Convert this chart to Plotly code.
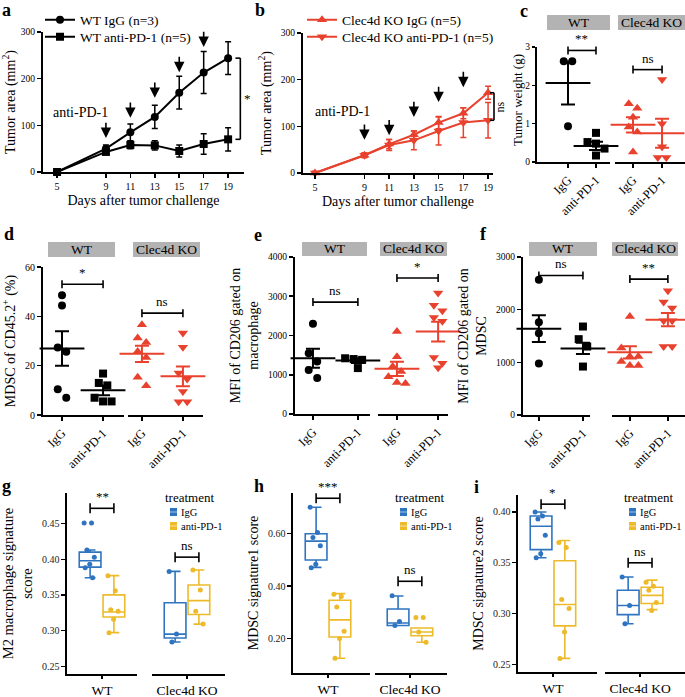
import plotly.graph_objects as go

# ---------------- data ----------------
days = [5, 9, 11, 13, 15, 17, 19]
wt_igg = [0, 50, 85, 118, 170, 213, 244]
wt_igg_sem = [0, 8, 18, 25, 35, 45, 35]
wt_pd1 = [0, 43, 58, 57, 45, 60, 70]
wt_pd1_sem = [0, 5, 8, 10, 13, 22, 25]
ko_igg = [0, 38, 62, 82, 108, 128, 172]
ko_igg_sem = [3, 5, 10, 8, 13, 12, 14]
ko_pd1 = [0, 38, 60, 70, 90, 108, 113]
ko_pd1_sem = [3, 5, 12, 20, 30, 32, 38]
dose_days = [9, 11, 13, 15, 17]

group_labels = ["IgG", "anti-PD-1"]
strain_labels = ["WT", "Clec4d KO"]

# c: tumor weight (g)
c_wt_igg = [2.63, 2.63, 0.93]
c_wt_pd1 = [0.76, 0.52, 0.48, 0.35, 0.17]
c_ko_igg = [1.52, 1.40, 1.17, 0.91, 0.78, 0.26]
c_ko_pd1 = [2.15, 1.00, 0.40, 0.12, 0.12]
c_means = [2.06, 0.42, 0.97, 0.75]
c_sems = [0.56, 0.11, 0.20, 0.38]

# d: MDSC of CD45.2+ (%)
d_wt_igg = [48.5, 44.4, 27.4, 25.6, 10.4, 7.0]
d_wt_pd1 = [16.8, 13.0, 12.0, 7.0, 5.5, 5.5]
d_ko_igg = [36.6, 31.2, 29.4, 25.7, 23.3, 15.3, 11.9]
d_ko_pd1 = [33.2, 27.5, 17.0, 14.6, 9.5, 5.4, 5.4]
d_means = [27.0, 10.0, 24.8, 15.7]
d_sems = [7.0, 2.0, 3.3, 4.0]

# e: MFI of CD206 gated on macrophage
e_wt_igg = [2300, 1550, 1340, 1120, 920]
e_wt_pd1 = [1420, 1400, 1380, 1340, 1170]
e_ko_igg = [2100, 1460, 1210, 1080, 950, 800, 780]
e_ko_pd1 = [3080, 2770, 2630, 2460, 2360, 1440, 1290, 1180]
e_means = [1420, 1360, 1150, 2100]
e_sems = [240, 60, 180, 250]

# f: MFI of CD206 gated on MDSC
f_wt_igg = [2570, 1760, 1550, 980]
f_wt_pd1 = [1680, 1440, 1300, 920]
f_ko_igg = [1870, 1270, 1110, 1110, 1015, 940, 940]
f_ko_pd1 = [2360, 2145, 2030, 1790, 1790, 1300, 1300]
f_means = [1640, 1265, 1190, 1810]
f_sems = [255, 105, 115, 127]

# g/h/i: box statistics [q1, median, q3, lower whisker, upper whisker] and points
g_stats = {"WT_IgG": [0.389, 0.398, 0.410, 0.374, 0.413],
           "WT_PD1": [0.319, 0.326, 0.350, 0.297, 0.377],
           "KO_IgG": [0.2895, 0.295, 0.339, 0.284, 0.383],
           "KO_PD1": [0.3225, 0.342, 0.364, 0.309, 0.385]}
g_pts = {"WT_IgG": [0.451, 0.451, 0.413, 0.403, 0.393, 0.388, 0.374],
         "WT_PD1": [0.377, 0.356, 0.329, 0.327, 0.316, 0.297],
         "KO_IgG": [0.383, 0.295, 0.284],
         "KO_PD1": [0.385, 0.357, 0.327, 0.309]}
h_stats = {"WT_IgG": [0.499, 0.571, 0.599, 0.471, 0.700],
           "WT_PD1": [0.206, 0.271, 0.346, 0.125, 0.371],
           "KO_IgG": [0.250, 0.259, 0.3125, 0.250, 0.362],
           "KO_PD1": [0.211, 0.225, 0.240, 0.186, 0.240]}
h_pts = {"WT_IgG": [0.700, 0.604, 0.585, 0.553, 0.483, 0.470],
         "WT_PD1": [0.369, 0.360, 0.320, 0.228, 0.200, 0.125],
         "KO_IgG": [0.363, 0.265, 0.250],
         "KO_PD1": [0.280, 0.280, 0.225, 0.186]}
i_stats = {"WT_IgG": [0.363, 0.386, 0.396, 0.355, 0.400],
           "WT_PD1": [0.288, 0.309, 0.352, 0.256, 0.372],
           "KO_IgG": [0.299, 0.308, 0.323, 0.290, 0.336],
           "KO_PD1": [0.310, 0.318, 0.326, 0.304, 0.333]}
i_pts = {"WT_IgG": [0.400, 0.396, 0.393, 0.377, 0.359, 0.355],
         "WT_PD1": [0.370, 0.365, 0.314, 0.305, 0.282, 0.256],
         "KO_IgG": [0.336, 0.308, 0.290],
         "KO_PD1": [0.331, 0.327, 0.323, 0.311, 0.303]}

# ---------------- styling / layout helpers ----------------
W, H = 685, 697
FONT = "Liberation Serif"
RED = "#E8412E"
BLUE = "#2F74C0"
GOLD = "#EDBA2A"
STRIP = "#B3B3B3"

def fx(p):
    return p / W

def fy(p):
    return 1 - p / H

AX = {}
LAY = {}
SHAPES = []
ANN = []

def xaxis(ref, p0, p1, r0, r1, anchor, tickvals, ticktext, tfs=10, angle=0, lw=2, title=None,
          tcolor="black", ticklen=4):
    AX[ref] = (p0, p1, r0, r1)
    key = "xaxis" + ref[1:]
    d = dict(domain=[fx(p0), fx(p1)], range=[r0, r1], anchor=anchor,
             tickmode="array", tickvals=tickvals, ticktext=ticktext, tickangle=angle,
             showline=True, linecolor="black", linewidth=lw, ticks="outside",
             ticklen=ticklen, tickwidth=lw * 0.8, tickcolor="black", showgrid=False,
             zeroline=False, tickfont=dict(family=FONT, size=tfs, color=tcolor),
             fixedrange=True)
    if title:
        d["title"] = dict(text=title, font=dict(family=FONT, size=14, color="black"), standoff=4)
    LAY[key] = d

def yaxis(ref, top, bot, r0, r1, anchor, tickvals, ticktext=None, tfs=10, lw=2, title=None, tsize=14,
          tcolor="black", standoff=6, ticklen=4):
    AX[ref] = (top, bot, r0, r1)
    key = "yaxis" + ref[1:]
    d = dict(domain=[fy(bot), fy(top)], range=[r0, r1], anchor=anchor,
             tickmode="array", tickvals=tickvals,
             ticktext=ticktext if ticktext is not None else [str(v) for v in tickvals],
             showline=True, linecolor="black", linewidth=lw, ticks="outside",
             ticklen=ticklen, tickwidth=lw * 0.8, tickcolor="black", showgrid=False,
             zeroline=False, tickfont=dict(family=FONT, size=tfs, color=tcolor),
             fixedrange=True)
    if title:
        d["title"] = dict(text=title, font=dict(family=FONT, size=tsize, color="black"), standoff=standoff)
    LAY[key] = d

def X(ref, v):
    p0, p1, r0, r1 = AX[ref]
    return fx(p0 + (v - r0) / (r1 - r0) * (p1 - p0))

def Y(ref, v):
    top, bot, r0, r1 = AX[ref]
    return fy(bot - (v - r0) / (r1 - r0) * (bot - top))

def xpx_per_unit(ref):
    p0, p1, r0, r1 = AX[ref]
    return (p1 - p0) / (r1 - r0)

def ypx_per_unit(ref):
    top, bot, r0, r1 = AX[ref]
    return (bot - top) / (r1 - r0)

def line(x0, y0, x1, y1, w=1.6, color="black"):
    SHAPES.append(dict(type="line", xref="paper", yref="paper", x0=x0, y0=y0, x1=x1, y1=y1,
                       line=dict(color=color, width=w)))

def text(x, y, s, size=13, xanchor="center", yanchor="middle", bold=False, angle=0, color="black"):
    ANN.append(dict(x=x, y=y, xref="paper", yref="paper", text=("<b>%s</b>" % s) if bold else s,
                    showarrow=False, xanchor=xanchor, yanchor=yanchor, textangle=angle,
                    font=dict(family=FONT, size=size, color=color)))

def bracket(xref, yref, x0, x1, yv, label, tick=4, size=13, lw=1.6):
    xa, xb, yy = X(xref, x0), X(xref, x1), Y(yref, yv)
    line(xa, yy, xb, yy, lw)
    line(xa, yy - tick / H, xa, yy + tick / H, lw)
    line(xb, yy - tick / H, xb, yy + tick / H, lw)
    text((xa + xb) / 2, yy + 2 / H, label, size=size, yanchor="bottom")

def strip(x0, x1, y0, y1, label):
    SHAPES.append(dict(type="rect", xref="paper", yref="paper", x0=fx(x0), x1=fx(x1),
                       y0=fy(y1), y1=fy(y0), fillcolor=STRIP, line=dict(width=0), layer="below"))
    text(fx((x0 + x1) / 2), fy((y0 + y1) / 2), label, size=13.5)

def swarm(vals, ux, uy, d=8.5):
    """Prism-like scatter: points that overlap vertically are spread side by side."""
    order = sorted(range(len(vals)), key=lambda i: -vals[i])
    offs = [0.0] * len(vals)
    clusters = []
    for i in order:
        if clusters and abs(vals[clusters[-1][0]] - vals[i]) * uy < d:
            clusters[-1].append(i)
        else:
            clusters.append([i])
    for cl in clusters:
        n = len(cl)
        for j, i in enumerate(cl):
            offs[i] = (j - (n - 1) / 2) * d / ux
    return offs

fig = go.Figure()

# ---------------- panel a ----------------
xaxis("x", 43, 244, 3.85, 20.3, "y", days, [str(d) for d in days], tfs=10,
      title="Days after tumor challenge")
yaxis("y", 32, 172, 0, 300, "x", [0, 100, 200, 300], tfs=9.5, title="Tumor area (mm<sup>2</sup>)")
for yv, err, sym, name, lg in [(wt_igg, wt_igg_sem, "circle", "WT IgG (n=3)", "legend"),
                               (wt_pd1, wt_pd1_sem, "square", "WT anti-PD-1 (n=5)", "legend2")]:
    fig.add_trace(go.Scatter(x=days, y=yv, mode="lines+markers", name=name,
                             error_y=dict(type="data", array=err, width=3, thickness=1.5, color="black"),
                             marker=dict(symbol=sym, size=8, color="black"),
                             line=dict(color="black", width=2), xaxis="x", yaxis="y",
                             legend=lg, cliponaxis=False, hoverinfo="skip"))
arrow_tips_a = [73, 116, 159, 214, 268]
for dday, tip in zip(dose_days, arrow_tips_a):
    ANN.append(dict(x=dday, y=tip, ax=dday, ay=tip + 36, xref="x", yref="y", axref="x", ayref="y",
                    showarrow=True, arrowhead=2, arrowsize=1.3, arrowwidth=1.6, arrowcolor="black", text=""))
text(fx(80), fy(113), "anti-PD-1", size=14)
# significance bracket on day 19
xb0, xb1 = X("x", 19.6), X("x", 20.0)
ya0, ya1 = Y("y", wt_igg[-1]), Y("y", wt_pd1[-1])
line(xb1, ya0, xb1, ya1)
line(xb0, ya0, xb1, ya0)
line(xb0, ya1, xb1, ya1)
text(xb1 + 7 / W, (ya0 + ya1) / 2, "*", size=13)

# ---------------- panel b ----------------
xaxis("x2", 303, 493, 4.03, 19.4, "y2", days, [str(d) for d in days], tfs=10,
      title="Days after tumor challenge")
yaxis("y2", 33, 173, 0, 300, "x2", [0, 100, 200, 300], tfs=9.5, title="Tumor area (mm<sup>2</sup>)")
for yv, err, sym, name, lg in [(ko_igg, ko_igg_sem, "triangle-up", "Clec4d KO IgG (n=5)", "legend3"),
                               (ko_pd1, ko_pd1_sem, "triangle-down", "Clec4d KO anti-PD-1 (n=5)", "legend4")]:
    fig.add_trace(go.Scatter(x=days, y=yv, mode="lines+markers", name=name,
                             error_y=dict(type="data", array=err, width=3, thickness=1.5, color=RED),
                             marker=dict(symbol=sym, size=9, color=RED),
                             line=dict(color=RED, width=2), xaxis="x2", yaxis="y2",
                             legend=lg, cliponaxis=False, hoverinfo="skip"))
arrow_tips_b = [71, 81, 120, 152, 184]
for dday, tip in zip(dose_days, arrow_tips_b):
    ANN.append(dict(x=dday, y=tip, ax=dday, ay=tip + 36, xref="x2", yref="y2", axref="x2", ayref="y2",
                    showarrow=True, arrowhead=2, arrowsize=1.3, arrowwidth=1.6, arrowcolor="black", text=""))
text(fx(342), fy(112), "anti-PD-1", size=14)
xb0, xb1 = fx(490), fx(494)
yb0, yb1 = Y("y2", ko_igg[-1]), Y("y2", ko_pd1[-1])
line(xb1, yb0, xb1, yb1)
line(xb0, yb0, xb1, yb0)
line(xb0, yb1, xb1, yb1)
text(xb1 + 5 / W, (yb0 + yb1) / 2, "ns", size=12, angle=-90)

# ---------------- dot panels c-f ----------------
SYMS = ["circle", "square", "triangle-up", "triangle-down"]
COLS = ["black", "black", RED, RED]

def dot_panel(xw, xk, yr, groups, means, sems, msize=8):
    refs = [(xw, 0), (xw, 1), (xk, 0), (xk, 1)]
    for k, ((xr, cat), vals) in enumerate(zip(refs, groups)):
        offs = swarm(vals, xpx_per_unit(xr), ypx_per_unit(yr), d=msize + 0.5)
        fig.add_trace(go.Scatter(x=[cat + o for o in offs], y=vals, mode="markers",
                                 marker=dict(symbol=SYMS[k], size=msize + (1 if k >= 2 else 0), color=COLS[k]),
                                 xaxis=xr, yaxis=yr, showlegend=False, cliponaxis=False, hoverinfo="skip"))
        fig.add_trace(go.Scatter(x=[cat], y=[means[k]], mode="markers",
                                 marker=dict(symbol="line-ew", size=32, line=dict(width=2, color=COLS[k])),
                                 error_y=dict(type="data", array=[sems[k]], width=7, thickness=2, color=COLS[k]),
                                 xaxis=xr, yaxis=yr, showlegend=False, cliponaxis=False, hoverinfo="skip"))

# c
yaxis("y3", 47, 162, 0, 3, "x3", [0, 1, 2, 3], tfs=9.5, ticklen=3)
text(fx(518), fy(100), "Tumor weight (g)", size=13, angle=-90)
xaxis("x3", 537, 610, -1.107, 1.5, "y3", [0, 1], group_labels, tfs=12.5, angle=-45)
xaxis("x4", 615, 685, -0.62, 1.79, "y3", [0, 1], group_labels, tfs=12.5, angle=-45)
dot_panel("x3", "x4", "y3", [c_wt_igg, c_wt_pd1, c_ko_igg, c_ko_pd1], c_means, c_sems)
strip(547, 610, 15, 30, strain_labels[0])
strip(618, 685, 15, 30, strain_labels[1])
bracket("x3", "y3", 0, 1, 2.91, "**")
bracket("x4", "y3", 0, 1, 2.41, "ns")

# d
yaxis("y4", 267, 415, 0, 60, "x5", [0, 20, 40, 60], tfs=10, title="MDSC of CD45.2<sup>+</sup> (%)")
xaxis("x5", 43, 124, -0.463, 1.51, "y4", [0, 1], group_labels, tfs=12.5, angle=-45)
xaxis("x6", 128, 203, -0.34, 1.49, "y4", [0, 1], group_labels, tfs=12.5, angle=-45)
dot_panel("x5", "x6", "y4", [d_wt_igg, d_wt_pd1, d_ko_igg, d_ko_pd1], d_means, d_sems)
strip(48, 115, 242, 257, strain_labels[0])
strip(133, 200, 242, 257, strain_labels[1])
bracket("x5", "y4", 0, 1, 53, "*")
bracket("x6", "y4", 0, 1, 41.3, "ns")

# e
yaxis("y5", 257, 414, 0, 4000, "x7", [0, 1000, 2000, 3000, 4000], tfs=9.5,
      title="MFI of CD206 gated on<br>macrophage")
xaxis("x7", 295, 370, -0.4, 1.27, "y5", [0, 1], group_labels, tfs=12.5, angle=-45)
xaxis("x8", 378, 448, -0.46, 1.24, "y5", [0, 1], group_labels, tfs=12.5, angle=-45)
dot_panel("x7", "x8", "y5", [e_wt_igg, e_wt_pd1, e_ko_igg, e_ko_pd1], e_means, e_sems)
strip(302, 367, 242, 256, strain_labels[0])
strip(380, 447, 242, 256, strain_labels[1])
bracket("x7", "y5", 0, 1, 2851, "ns")
bracket("x8", "y5", 0, 1, 3464, "*")

# f
yaxis("y6", 257, 415, 0, 3000, "x9", [0, 1000, 2000, 3000], tfs=9.5,
      title="MFI of CD206 gated on<br>MDSC")
xaxis("x9", 523, 590, -0.36, 1.16, "y6", [0, 1], group_labels, tfs=12.5, angle=-45)
xaxis("x10", 612, 685, -0.47, 1.45, "y6", [0, 1], group_labels, tfs=12.5, angle=-45)
dot_panel("x9", "x10", "y6", [f_wt_igg, f_wt_pd1, f_ko_igg, f_ko_pd1], f_means, f_sems)
strip(529, 597, 242, 256, strain_labels[0])
strip(612, 678, 242, 256, strain_labels[1])
bracket("x9", "y6", 0, 1, 2650, "ns")
bracket("x10", "y6", 0, 1, 2580, "**")

# ---------------- box panels g-i ----------------
BOXW = 0.31
OFF = 0.17

def box_panel(xw, xk, yr, stats, pts, brk_w, brk_k, legend_x):
    for xr, strain in [(xw, "WT"), (xk, "KO")]:
        for grp, col, sgn in [("IgG", BLUE, -1), ("PD1", GOLD, 1)]:
            key = strain + "_" + grp
            q1, med, q3, lo, hi = stats[key]
            pos = sgn * OFF
            fig.add_trace(go.Box(x=[pos], q1=[q1], median=[med], q3=[q3], lowerfence=[lo], upperfence=[hi],
                                 orientation="v", width=BOXW, fillcolor="white", boxpoints=False,
                                 line=dict(color=col, width=1.6), xaxis=xr, yaxis=yr,
                                 showlegend=False, hoverinfo="skip"))
            vals = pts[key]
            jit = [((n * 0.618) % 1 - 0.5) * 0.55 * BOXW for n in range(len(vals))]
            fig.add_trace(go.Scatter(x=[pos + j for j in jit], y=vals, mode="markers",
                                     marker=dict(size=5, color=col), xaxis=xr, yaxis=yr,
                                     showlegend=False, cliponaxis=False, hoverinfo="skip"))
    bracket(xw, yr, -OFF, OFF, brk_w[0], brk_w[1], tick=5, size=13)
    bracket(xk, yr, -OFF, OFF, brk_k[0], brk_k[1], tick=5, size=13)
    # legend
    lx = legend_x
    text(fx(lx), fy(497), "treatment", size=13, xanchor="left")
    for k, (lab, col) in enumerate([("IgG", BLUE), ("anti-PD-1", GOLD)]):
        yc = 512 + 14 * k
        SHAPES.append(dict(type="rect", xref="paper", yref="paper", x0=fx(lx + 7), x1=fx(lx + 14),
                           y0=fy(yc + 4), y1=fy(yc - 4), fillcolor=col, line=dict(width=0)))
        line(fx(lx + 7), fy(yc), fx(lx + 14), fy(yc), w=0.8, color="rgba(255,255,255,0.7)")
        text(fx(lx + 16), fy(yc), lab, size=10.5, xanchor="left")

gi_tick = "#222222"
# g
yaxis("y7", 493, 674, 0.239, 0.493, "x11", [0.25, 0.30, 0.35, 0.40, 0.45],
      ["0.25", "0.30", "0.35", "0.40", "0.45"], tfs=10, lw=1.6,
      title="M2 macrophage signature<br>score", tsize=14.5, tcolor=gi_tick)
xaxis("x11", 67, 137, -0.5, 0.5, "y7", [0], [strain_labels[0]], tfs=13.5, lw=1.6, ticklen=3)
xaxis("x12", 152, 225, -0.5, 0.543, "y7", [0], [strain_labels[1]], tfs=13.5, lw=1.6, ticklen=3)
box_panel("x11", "x12", "y7", g_stats, g_pts, (0.4715, "**"), (0.403, "ns"), 163)

# h
yaxis("y8", 493, 673, 0.069, 0.754, "x13", [0.2, 0.4, 0.6], ["0.20", "0.40", "0.60"], tfs=10, lw=1.6,
      title="MDSC signature1 score", tsize=14, tcolor=gi_tick)
xaxis("x13", 293, 370, -0.5, 0.6, "y8", [0], [strain_labels[0]], tfs=13.5, lw=1.6, ticklen=3)
xaxis("x14", 375, 447, -0.5, 0.53, "y8", [0], [strain_labels[1]], tfs=13.5, lw=1.6, ticklen=3)
box_panel("x13", "x14", "y8", h_stats, h_pts, (0.734, "***"), (0.418, "ns"), 393)

# i
yaxis("y9", 495, 672, 0.2426, 0.4167, "x15", [0.25, 0.30, 0.35, 0.40],
      ["0.25", "0.30", "0.35", "0.40"], tfs=10, lw=1.6,
      title="MDSC signature2 score", tsize=14, tcolor=gi_tick)
xaxis("x15", 518, 597, -0.5, 0.63, "y9", [0], [strain_labels[0]], tfs=13.5, lw=1.6, ticklen=3)
xaxis("x16", 605, 685, -0.5, 0.64, "y9", [0], [strain_labels[1]], tfs=13.5, lw=1.6, ticklen=3)
box_panel("x15", "x16", "y9", i_stats, i_pts, (0.4077, "*"), (0.35, "ns"), 622)

# ---------------- panel letters ----------------
for lab, x, y in [("a", 0, 10), ("b", 253, 10), ("c", 518, 11), ("d", 2, 234), ("e", 252, 235),
                  ("f", 478, 234), ("g", 0, 486), ("h", 252, 486), ("i", 472, 487)]:
    text(fx(x), fy(y), lab, size=18, xanchor="left", bold=True)

legend_common = dict(bgcolor="rgba(0,0,0,0)", font=dict(family=FONT, size=13.5, color="black"),
                     xanchor="left", yanchor="middle", tracegroupgap=0, itemwidth=30)
fig.update_layout(
    width=W, height=H, margin=dict(l=0, r=0, t=0, b=0), template="none",
    paper_bgcolor="white", plot_bgcolor="rgba(0,0,0,0)", showlegend=True,
    font=dict(family=FONT, color="black"),
    legend=dict(x=fx(40), y=fy(20), **legend_common),
    legend2=dict(x=fx(40), y=fy(37), **legend_common),
    legend3=dict(x=fx(302), y=fy(20), **legend_common),
    legend4=dict(x=fx(302), y=fy(37), **legend_common),
    shapes=SHAPES, annotations=ANN, **LAY,
)

fig.write_html("out.html", config={"displayModeBar": False, "staticPlot": True},
               post_script="document.body.style.margin='0';document.body.style.overflow='hidden';")
